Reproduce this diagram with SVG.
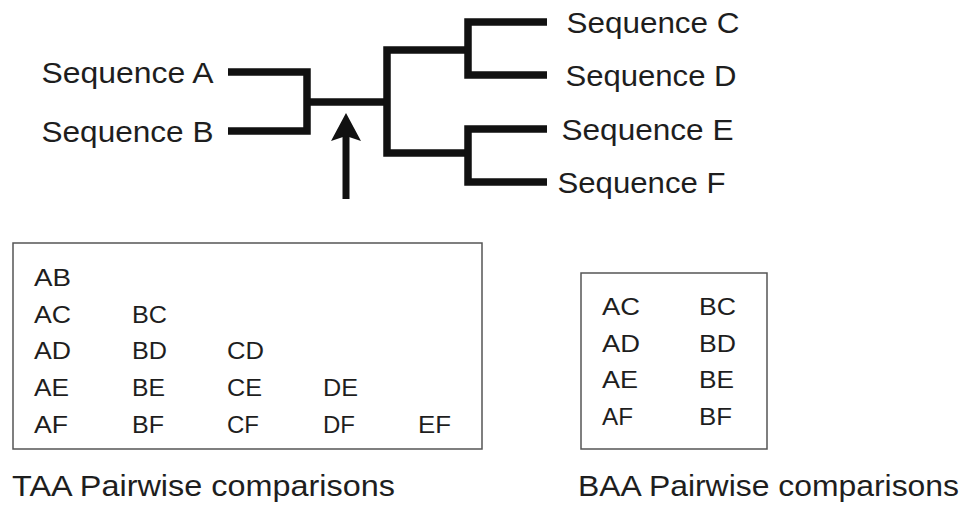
<svg xmlns="http://www.w3.org/2000/svg" width="964" height="506" viewBox="0 0 964 506">
  <style>
    .seq { font-family: "Liberation Sans", Arial, sans-serif; font-size: 29px; fill: #1e1e1e; }
    .pair { font-family: "Liberation Sans", Arial, sans-serif; font-size: 23px; fill: #1e1e1e; }
    .cap { font-family: "Liberation Sans", Arial, sans-serif; font-size: 29px; fill: #1e1e1e; }
    .branch { fill: none; stroke: #111; stroke-width: 7.5; stroke-linecap: butt; stroke-linejoin: miter; }
    .box { fill: #fff; stroke: #555; stroke-width: 1.5; }
  </style>
  <defs>
    <marker id="head" markerUnits="userSpaceOnUse" viewBox="0 0 28 30" markerWidth="28" markerHeight="30" refX="5" refY="15" orient="auto">
      <path d="M0,0 L28,15 L0,30 L5,15 Z" fill="#111"/>
    </marker>
  </defs>
  <rect width="964" height="506" fill="#fff"/>

  <g id="connectors">
    <path class="branch" d="M228,72 H307 V131 H228"/>
    <path class="branch" d="M307,102 H387"/>
    <path class="branch" d="M468,50 H387 V153 H468"/>
    <path class="branch" d="M547,22 H468 V75 H547"/>
    <path class="branch" d="M547,129 H468 V182 H547"/>
    <line x1="346" y1="199" x2="346" y2="136" stroke="#111" stroke-width="7" marker-end="url(#head)"/>
  </g>

  <g id="seqA"><text class="seq" x="41.5" y="83" textLength="172" lengthAdjust="spacingAndGlyphs">Sequence A</text></g>
  <g id="seqB"><text class="seq" x="41.5" y="142" textLength="172" lengthAdjust="spacingAndGlyphs">Sequence B</text></g>
  <g id="seqC"><text class="seq" x="566.5" y="33" textLength="173" lengthAdjust="spacingAndGlyphs">Sequence C</text></g>
  <g id="seqD"><text class="seq" x="565.5" y="86" textLength="171" lengthAdjust="spacingAndGlyphs">Sequence D</text></g>
  <g id="seqE"><text class="seq" x="561.5" y="140" textLength="172" lengthAdjust="spacingAndGlyphs">Sequence E</text></g>
  <g id="seqF"><text class="seq" x="557.5" y="193" textLength="168" lengthAdjust="spacingAndGlyphs">Sequence F</text></g>

  <g id="taaBox">
    <rect class="box" x="13" y="243" width="469" height="206"/>
    <text class="pair" x="34" y="286" textLength="37" lengthAdjust="spacingAndGlyphs">AB</text>
    <text class="pair" x="34" y="323" textLength="37" lengthAdjust="spacingAndGlyphs">AC</text>
    <text class="pair" x="34" y="359" textLength="37" lengthAdjust="spacingAndGlyphs">AD</text>
    <text class="pair" x="34" y="396" textLength="35" lengthAdjust="spacingAndGlyphs">AE</text>
    <text class="pair" x="34" y="433" textLength="34" lengthAdjust="spacingAndGlyphs">AF</text>
    <text class="pair" x="132" y="323" textLength="35" lengthAdjust="spacingAndGlyphs">BC</text>
    <text class="pair" x="132" y="359" textLength="35" lengthAdjust="spacingAndGlyphs">BD</text>
    <text class="pair" x="132" y="396" textLength="33" lengthAdjust="spacingAndGlyphs">BE</text>
    <text class="pair" x="132" y="433" textLength="32" lengthAdjust="spacingAndGlyphs">BF</text>
    <text class="pair" x="227" y="359" textLength="37" lengthAdjust="spacingAndGlyphs">CD</text>
    <text class="pair" x="227" y="396" textLength="35" lengthAdjust="spacingAndGlyphs">CE</text>
    <text class="pair" x="227" y="433" textLength="32" lengthAdjust="spacingAndGlyphs">CF</text>
    <text class="pair" x="323" y="396" textLength="35" lengthAdjust="spacingAndGlyphs">DE</text>
    <text class="pair" x="323" y="433" textLength="32" lengthAdjust="spacingAndGlyphs">DF</text>
    <text class="pair" x="418" y="433" textLength="33" lengthAdjust="spacingAndGlyphs">EF</text>
  </g>

  <g id="baaBox">
    <rect class="box" x="581" y="273" width="186" height="176"/>
    <text class="pair" x="602" y="315" textLength="38" lengthAdjust="spacingAndGlyphs">AC</text>
    <text class="pair" x="602" y="352" textLength="38" lengthAdjust="spacingAndGlyphs">AD</text>
    <text class="pair" x="602" y="388" textLength="36" lengthAdjust="spacingAndGlyphs">AE</text>
    <text class="pair" x="602" y="425" textLength="31" lengthAdjust="spacingAndGlyphs">AF</text>
    <text class="pair" x="699" y="315" textLength="37" lengthAdjust="spacingAndGlyphs">BC</text>
    <text class="pair" x="699" y="352" textLength="37" lengthAdjust="spacingAndGlyphs">BD</text>
    <text class="pair" x="699" y="388" textLength="35" lengthAdjust="spacingAndGlyphs">BE</text>
    <text class="pair" x="699" y="425" textLength="33" lengthAdjust="spacingAndGlyphs">BF</text>
  </g>

  <g id="taaCaption"><text class="cap" x="12" y="496" textLength="383" lengthAdjust="spacingAndGlyphs">TAA Pairwise comparisons</text></g>
  <g id="baaCaption"><text class="cap" x="578" y="496" textLength="381" lengthAdjust="spacingAndGlyphs">BAA Pairwise comparisons</text></g>
</svg>
